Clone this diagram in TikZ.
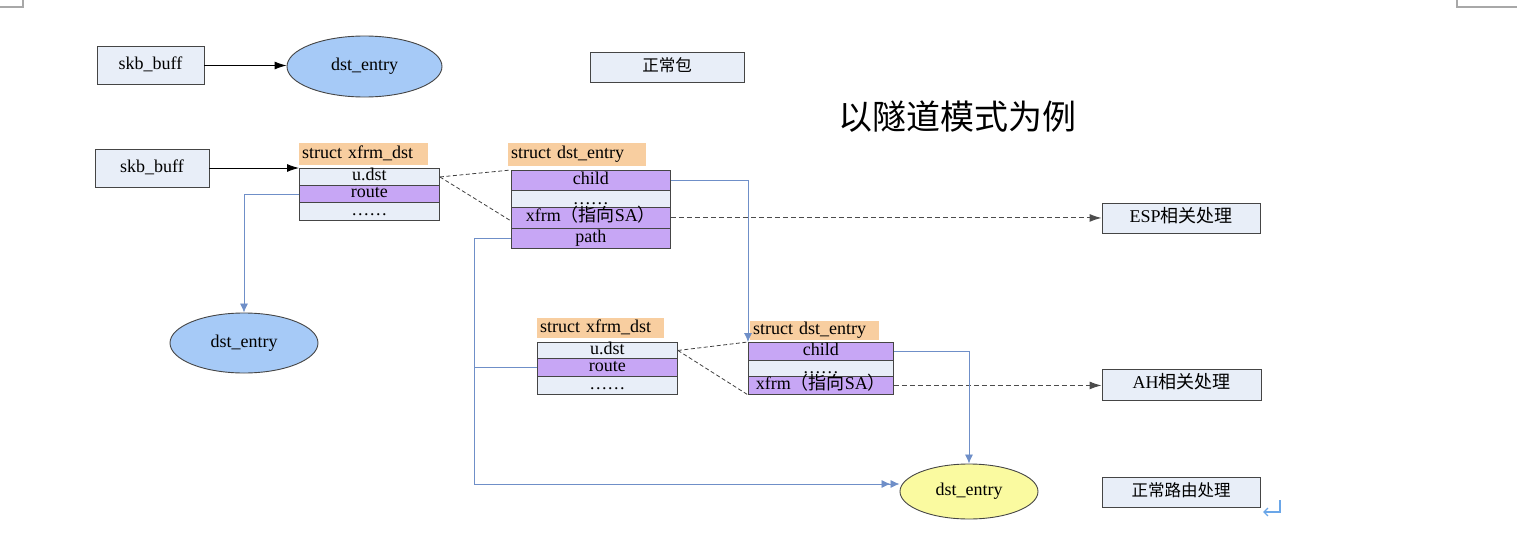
\documentclass[tikz,border=0pt]{standalone}
\usepackage{fontspec}
\setmainfont{Liberation Serif}
\newfontfamily\cjk{Noto Sans CJK SC}
\usetikzlibrary{arrows.meta,shapes.geometric}
\definecolor{lt}{HTML}{E8EEF8}
\definecolor{pur}{HTML}{C7A6F5}
\definecolor{org}{HTML}{F8CEA0}
\definecolor{ellb}{HTML}{A6CAF7}
\definecolor{elly}{HTML}{FAFAA0}
\definecolor{conb}{HTML}{6F8FC8}
\definecolor{brd}{HTML}{454545}
\definecolor{cornergray}{HTML}{A8A8A8}
\definecolor{pil}{HTML}{6AA6E8}
\begin{document}
\begin{tikzpicture}[x=1pt,y=-1pt,
  txt/.style={font=\fontsize{18}{21}\selectfont},
  plainbox/.style={txt,draw=brd,fill=lt,line width=0.9pt,inner sep=0pt,text height=11pt,text depth=3pt},
  cell/.style={txt,draw=brd,line width=0.9pt,inner sep=0pt,anchor=north west,text height=11pt,text depth=3pt},
  lab/.style={txt,fill=org,inner xsep=3pt,inner ysep=0pt,anchor=north west,align=left,text height=12pt,text depth=4pt},
  ell/.style={txt,ellipse,draw=brd,line width=0.9pt,inner sep=0pt},
  blk/.style={black,line width=0.9pt,-{Latex[length=12pt,width=8pt]}},
  dsh/.style={black!75,line width=0.8pt,dash pattern=on 4pt off 2.5pt},
  dsharr/.style={black!70,line width=1pt,dash pattern=on 5pt off 3pt,-{Latex[length=12pt,width=8pt]}},
  blu/.style={conb,line width=0.8pt,-{Latex[length=9pt,width=8pt]}},
  cornerline/.style={cornergray,line width=1.5pt},
]
\useasboundingbox (0,0) rectangle (1521,541);

% corner marks
\draw[cornerline] (0,7) -- (23,7) -- (23,0);
\draw[cornerline] (1457,0) -- (1457,7) -- (1517,7);

% top row
\node[plainbox,minimum width=107pt,minimum height=38pt] (skb1) at (150.5,65.5) {skb\_buff};
\node[ell,fill=ellb,minimum width=155pt,minimum height=61pt] (e1) at (364.5,66.5) {dst\_entry};
\draw[blk] (skb1.east) -- (skb1.east -| e1.west);
\node[plainbox,font=\cjk\fontsize{16.5}{19}\selectfont,minimum width=154pt,minimum height=30pt] (norm) at (667,67) {正常包};
\node[font=\cjk\fontsize{34}{40}\selectfont,inner sep=0pt] (title) at (957,117) {以隧道模式为例};

% second skb
\node[plainbox,minimum width=114pt,minimum height=38pt] (skb2) at (152,168) {skb\_buff};

% xfrm_dst table 1
\node[lab,text width=123pt,minimum height=22pt] (l1) at (299,143) {struct xfrm\_dst};
\node[cell,fill=lt,minimum width=140pt,minimum height=17pt] (x1u) at (299,168) {u.dst};
\node[cell,fill=pur,minimum width=140pt,minimum height=17pt] (x1r) at (299,185) {route};
\node[cell,fill=lt,minimum width=140pt,minimum height=18pt] (x1d) at (299,202) {……};
\draw[blk] (skb2.east) -- (skb2.east -| x1u.west);

% dst_entry table 1
\node[lab,text width=132pt,minimum height=23pt] (l2) at (508,143) {struct dst\_entry};
\node[cell,fill=pur,minimum width=159pt,minimum height=20pt] (d1c) at (511,170) {child};
\node[cell,fill=lt,minimum width=159pt,minimum height=17pt,text height=14pt,text depth=3pt] (d1d) at (511,190) {……};
\node[cell,fill=pur,minimum width=159pt,minimum height=21pt] (d1x) at (511,207) {xfrm{\cjk（指向}SA{\cjk ）}};
\node[cell,fill=pur,minimum width=159pt,minimum height=20pt] (d1p) at (511,228) {path};

\draw[dsh] (x1u.east) -- (d1c.north west);
\draw[dsh] (x1u.east) -- ([yshift=-3pt]d1x.west);

% right boxes
\node[plainbox,minimum width=158pt,minimum height=30pt] (esp) at (1181,218) {ESP{\cjk 相关处理}};
\node[plainbox,minimum width=159pt,minimum height=31pt] (ah) at (1181.5,384.5) {AH{\cjk 相关处理}};
\node[plainbox,font=\cjk\fontsize{16.5}{19}\selectfont,minimum width=158pt,minimum height=30pt] (route) at (1181,492) {正常路由处理};

\draw[dsharr] (d1x.east) -- (d1x.east -| esp.west);

% left lower ellipse
\node[ell,fill=ellb,minimum width=148pt,minimum height=60pt] (e2) at (244,343) {dst\_entry};
\draw[blu] (x1r.west) -| (e2.north);

% xfrm_dst table 2
\node[lab,text width=121pt,minimum height=20pt] (l3) at (537,318) {struct xfrm\_dst};
\node[cell,fill=lt,minimum width=140pt,minimum height=16pt] (x2u) at (537,342) {u.dst};
\node[cell,fill=pur,minimum width=140pt,minimum height=18pt] (x2r) at (537,358) {route};
\node[cell,fill=lt,minimum width=140pt,minimum height=18pt] (x2d) at (537,376) {……};

% dst_entry table 2
\node[lab,text width=123pt,minimum height=19pt] (l4) at (750,321) {struct dst\_entry};
\node[cell,fill=pur,minimum width=145pt,minimum height=18pt] (d2c) at (748,342) {child};
\node[cell,fill=lt,minimum width=145pt,minimum height=16pt,text height=13pt,text depth=3pt] (d2d) at (748,360) {……};
\node[cell,fill=pur,minimum width=145pt,minimum height=18pt] (d2x) at (748,376) {xfrm{\cjk（指向}SA{\cjk ）}};

\draw[dsh] (x2u.east) -- (d2c.north west);
\draw[dsh] (x2u.east) -- (d2x.south west);
\draw[dsharr] (d2x.east) -- (d2x.east -| ah.west);

% child connectors
\draw[blu] (d1c.east) -| (d2c.north west);

% bottom ellipse
\node[ell,fill=elly,minimum width=138pt,minimum height=55pt] (e3) at (969,491.5) {dst\_entry};
\draw[blu] (d2c.east) -| (e3.north);

\coordinate (j) at (474,484);
\draw[blu,shorten >=9pt] (d1p.west) -| (j) -- (j -| e3.west);
\draw[blu] (x2r.west) -- (x2r.west -| j) -- (j) -- (j -| e3.west);

% paragraph mark
\draw[pil,line width=1.3pt,-{Straight Barb[length=4pt,width=8pt]}] (1280,500) -- (1280,512) -- (1263,512);
\end{tikzpicture}
\end{document}
